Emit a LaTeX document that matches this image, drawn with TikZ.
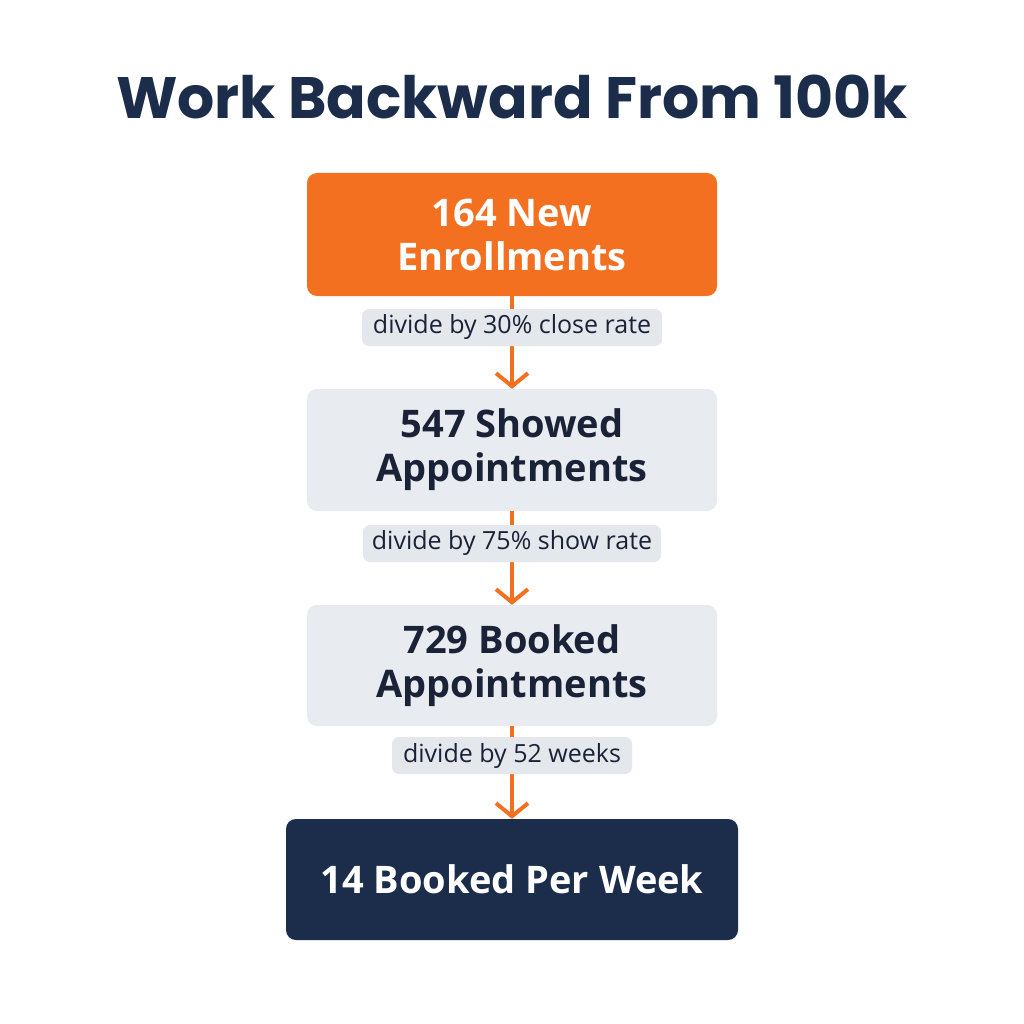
\documentclass[tikz,border=0pt]{standalone}
\usepackage{fontspec}
\setmainfont{Open Sans}
\newfontfamily\titlefont{Poppins}
\usetikzlibrary{arrows.meta}
\definecolor{brandorange}{HTML}{F37021}
\definecolor{navy}{HTML}{1B2D4B}
\definecolor{boxgrey}{HTML}{E8EBEF}
\definecolor{labelgrey}{HTML}{E4E7EB}
\definecolor{darktext}{HTML}{1A2238}
\begin{document}
\begin{tikzpicture}[x=1pt,y=-1pt,
  stepbox/.style={rounded corners=10pt, inner sep=0pt, align=center, minimum height=122pt, font=\fontsize{38}{44}\selectfont\bfseries},
  labelbox/.style={rounded corners=7pt, inner sep=0pt, fill=labelgrey, minimum height=37pt, text=darktext, font=\fontsize{25}{28}\selectfont},
  arrowline/.style={draw=brandorange, line width=4.5pt, -{Straight Barb[length=13pt,width=32pt,line width=4pt]}}
]
\fill[white] (0,0) rectangle (1024,1024);
\node[font=\titlefont\fontsize{58.4}{62}\selectfont\bfseries, text=navy] (title) at (512,97) {Work Backward From 100k};
\node[stepbox, fill=brandorange, text=white, minimum width=410pt, minimum height=123pt] (b1) at (512,234.5) {164 New\\Enrollments};
\node[stepbox, fill=boxgrey, text=darktext, minimum width=410pt] (b2) at (512,450) {547 Showed\\Appointments};
\node[stepbox, fill=boxgrey, text=darktext, minimum width=410pt, minimum height=121pt] (b3) at (512,665.5) {729 Booked\\Appointments};
\node[stepbox, fill=navy, text=white, minimum width=452pt, minimum height=121pt] (b4) at (512,879.5) {14 Booked Per Week};
\draw[arrowline] (b1.south) -- (b2.north);
\draw[arrowline] (b2.south) -- (b3.north);
\draw[arrowline] (b3.south) -- (b4.north);
\node[labelbox, minimum width=300pt] (l1) at (512,327.5) {divide by 30\% close rate};
\node[labelbox, minimum width=298pt] (l2) at (512,543.5) {divide by 75\% show rate};
\node[labelbox, minimum width=240pt] (l3) at (512,755.5) {divide by 52 weeks};
\end{tikzpicture}
\end{document}
